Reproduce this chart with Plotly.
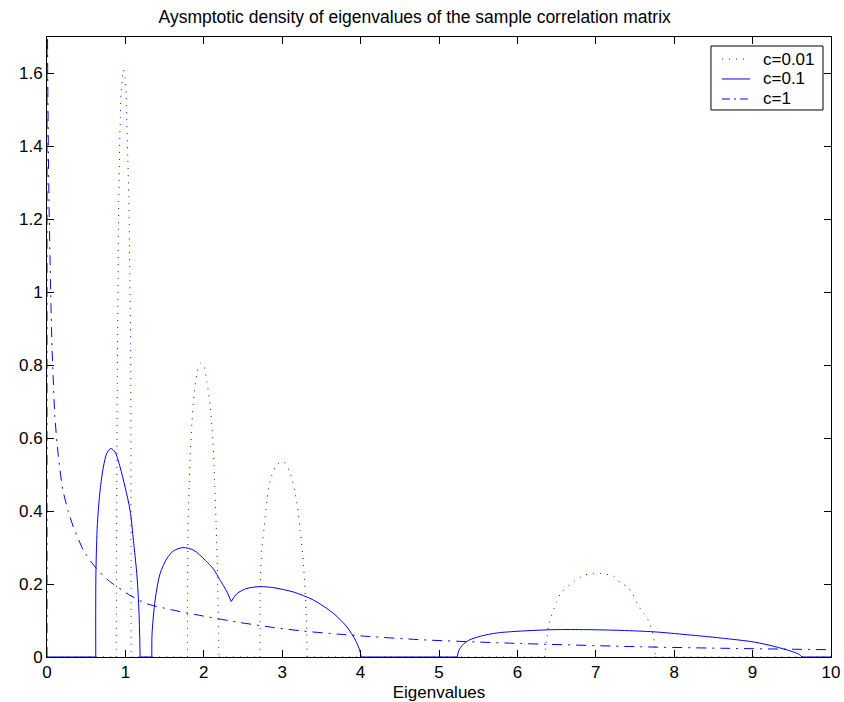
import plotly.graph_objects as go

# Asymptotic eigenvalue density of the sample correlation matrix,
# for three ratios c = p/n. Each curve is zero outside its bumps.

# c = 0.01 : four separate bumps
c001_b1_x = [0.884, 0.888, 0.893, 0.898, 0.907, 0.911, 0.920, 0.928, 0.936, 0.945, 0.954, 0.962,
             0.975, 0.996, 1.009, 1.018, 1.030, 1.043, 1.051, 1.060, 1.067, 1.071, 1.074]
c001_b1_y = [0.0, 0.30, 0.60, 0.83, 1.04, 1.18, 1.31, 1.42, 1.48, 1.545, 1.57, 1.59,
             1.61, 1.586, 1.545, 1.477, 1.371, 1.262, 1.134, 0.997, 0.85, 0.45, 0.0]
c001_b2_x = [1.792, 1.794, 1.805, 1.826, 1.848, 1.877, 1.912, 1.954, 1.996, 2.040, 2.082, 2.116,
             2.137, 2.158, 2.175, 2.193]
c001_b2_y = [0.0, 0.229, 0.411, 0.549, 0.640, 0.722, 0.777, 0.805, 0.800, 0.754, 0.686, 0.594,
             0.485, 0.357, 0.229, 0.0]
c001_b3_x = [2.720, 2.722, 2.742, 2.771, 2.806, 2.848, 2.933, 3.018, 3.103, 3.167, 3.231, 3.273,
             3.308, 3.317]
c001_b3_y = [0.0, 0.210, 0.302, 0.357, 0.430, 0.485, 0.528, 0.535, 0.503, 0.448, 0.347, 0.247,
             0.110, 0.0]
c001_b4_x = [6.347, 6.373, 6.402, 6.458, 6.500, 6.552, 6.680, 6.849, 6.956, 7.063, 7.233, 7.318,
             7.404, 7.467, 7.552, 7.616, 7.680, 7.722, 7.743, 7.756, 7.760]
c001_b4_y = [0.0, 0.046, 0.091, 0.128, 0.151, 0.174, 0.201, 0.224, 0.229, 0.229, 0.221, 0.203,
             0.192, 0.174, 0.137, 0.119, 0.096, 0.069, 0.046, 0.018, 0.0]

# c = 0.1 : the bumps partly merge (cusp near 2.35)
c01_b1_x = [0.622, 0.624, 0.643, 0.677, 0.719, 0.762, 0.813, 0.868, 0.932, 0.996, 1.060, 1.102,
            1.145, 1.171, 1.188]
c01_b1_y = [0.0, 0.229, 0.366, 0.457, 0.521, 0.558, 0.572, 0.562, 0.521, 0.466, 0.402, 0.320,
            0.229, 0.137, 0.0]
c01_b2_x = [1.337, 1.340, 1.379, 1.443, 1.529, 1.613, 1.735, 1.869, 2.020, 2.120, 2.210, 2.290,
            2.350]
c01_b2_y = [0.0, 0.064, 0.156, 0.229, 0.270, 0.291, 0.300, 0.293, 0.265, 0.242, 0.210, 0.181,
            0.152]
c01_b3_x = [2.350, 2.423, 2.550, 2.720, 2.890, 3.146, 3.400, 3.657, 3.827, 3.934, 3.989, 4.006]
c01_b3_y = [0.152, 0.174, 0.188, 0.193, 0.190, 0.178, 0.156, 0.119, 0.082, 0.046, 0.018, 0.0]
c01_b4_x = [5.232, 5.253, 5.296, 5.381, 5.530, 5.743, 6.040, 6.466, 6.890, 7.318, 7.743, 8.170,
            8.595, 9.020, 9.276, 9.489, 9.595, 9.630]
c01_b4_y = [0.0, 0.018, 0.032, 0.046, 0.057, 0.066, 0.071, 0.075, 0.075, 0.073, 0.069, 0.061,
            0.052, 0.041, 0.029, 0.016, 0.007, 0.0]

# c = 1 : one long decaying curve
c1_x = [0.0, 0.002, 0.009, 0.018, 0.026, 0.038, 0.050, 0.064, 0.080, 0.100, 0.145, 0.200, 0.270,
        0.336, 0.464, 0.613, 0.783, 1.060, 1.273, 1.600, 2.000, 2.420, 2.850, 3.270, 3.700,
        4.120, 4.800, 6.040, 7.570, 8.600, 10.0]
c1_y = [0.0, 1.90, 1.60, 1.38, 1.24, 1.10, 0.97, 0.85, 0.76, 0.66, 0.55, 0.46, 0.40,
        0.357, 0.293, 0.247, 0.210, 0.169, 0.146, 0.129, 0.112, 0.096, 0.082, 0.071, 0.063,
        0.056, 0.047, 0.037, 0.028, 0.024, 0.020]

x_ticks = list(range(0, 11))
y_ticks = [0, 0.2, 0.4, 0.6, 0.8, 1.0, 1.2, 1.4, 1.6]
y_ticktext = ["0", "0.2", "0.4", "0.6", "0.8", "1", "1.2", "1.4", "1.6"]

legend_labels = ["c=0.01", "c=0.1", "c=1"]

X_MIN, X_MAX = 0, 10
BLUE = "rgb(0,0,255)"
FONT = "Liberation Sans, Arial, Helvetica, sans-serif"
DOT = "1px,6px"
DASHDOT = "10px,6px,2px,6px"


def join_bumps(bumps):
    xs, ys = [], []
    for bx, by in bumps:
        if xs:
            xs.append(None)
            ys.append(None)
        xs += bx
        ys += by
    return xs, ys


def zero_segments(bumps):
    """Zero-density stretches between the supports of the bumps."""
    xs, ys = [], []
    start = X_MIN
    for bx, _ in bumps:
        xs += [start, bx[0], None]
        ys += [0, 0, None]
        start = bx[-1]
    xs += [start, X_MAX]
    ys += [0, 0]
    return xs, ys


series = [
    (legend_labels[0], DOT,
     [(c001_b1_x, c001_b1_y), (c001_b2_x, c001_b2_y), (c001_b3_x, c001_b3_y), (c001_b4_x, c001_b4_y)]),
    (legend_labels[1], "solid",
     [(c01_b1_x, c01_b1_y), (c01_b2_x, c01_b2_y), (c01_b3_x, c01_b3_y), (c01_b4_x, c01_b4_y)]),
]

fig = go.Figure()
for i, (name, dash, bumps) in enumerate(series):
    bx, by = join_bumps(bumps)
    fig.add_trace(go.Scatter(x=bx, y=by, mode="lines", name=name, legendgroup=name, showlegend=False,
                             line=dict(color=BLUE, width=1, dash=dash, shape="spline", smoothing=0.8),
                             connectgaps=False))
    # stretches with zero density; bumps 2 and 3 of c=0.1 meet at the cusp
    gap_bumps = bumps if i == 0 else [bumps[0], (bumps[1][0] + bumps[2][0], None), bumps[3]]
    zx, zy = zero_segments(gap_bumps)
    fig.add_trace(go.Scatter(x=zx, y=zy, mode="lines", legendgroup=name, showlegend=False,
                             line=dict(color=BLUE, width=1, dash=dash), connectgaps=False,
                             hoverinfo="skip"))

fig.add_trace(go.Scatter(x=c1_x, y=c1_y, mode="lines", name=legend_labels[2], showlegend=False,
                         line=dict(color=BLUE, width=1, dash=DASHDOT,
                                   shape="spline", smoothing=0.6)))

# Boxed legend in the upper right corner of the axes (MATLAB style, compact rows)
box_x0, box_x1, box_y0, box_y1 = 0.8469, 0.9898, 0.8823, 0.9855
sample_x0, sample_x1, text_x = 0.861, 0.8967, 0.9107
row_y = [0.9645, 0.9323, 0.9000]
row_dash = [DOT, "solid", "8px,4px,2px,4px"]

shapes = [dict(type="rect", xref="paper", yref="paper", x0=box_x0, x1=box_x1, y0=box_y0, y1=box_y1,
               line=dict(color="black", width=1), fillcolor="white", layer="above")]
annotations = []
for label, y, dash in zip(legend_labels, row_y, row_dash):
    shapes.append(dict(type="line", xref="paper", yref="paper", x0=sample_x0, x1=sample_x1, y0=y, y1=y,
                       line=dict(color=BLUE, width=1, dash=dash), layer="above"))
    annotations.append(dict(text=label, xref="paper", yref="paper", x=text_x, y=y,
                            xanchor="left", yanchor="middle", showarrow=False,
                            font=dict(family=FONT, size=17, color="black")))

axis_common = dict(showline=True, linecolor="black", linewidth=1, mirror="ticks",
                   ticks="inside", ticklen=7, tickcolor="black", tickwidth=1,
                   showgrid=False, zeroline=False, automargin=False,
                   tickfont=dict(family=FONT, size=17, color="black"))

fig.update_layout(
    width=844, height=702,
    margin=dict(l=47, r=13, t=37, b=45),
    paper_bgcolor="white", plot_bgcolor="white",
    font=dict(family=FONT, size=17, color="black"),
    title=dict(text="Aysmptotic density of eigenvalues of the sample correlation matrix",
               x=0.469, xref="paper", xanchor="center",
               y=1 - 17 / 702, yref="container", yanchor="middle",
               font=dict(family=FONT, size=17.5, color="black")),
    xaxis=dict(range=[X_MIN, X_MAX], tickvals=x_ticks, ticktext=[str(t) for t in x_ticks],
               title=dict(text="Eigenvalues", font=dict(family=FONT, size=17)),
               **axis_common),
    yaxis=dict(range=[0, 1.7], tickvals=y_ticks, ticktext=y_ticktext, **axis_common),
    shapes=shapes,
    annotations=annotations,
    showlegend=False,
)

fig.write_html("out.html")
